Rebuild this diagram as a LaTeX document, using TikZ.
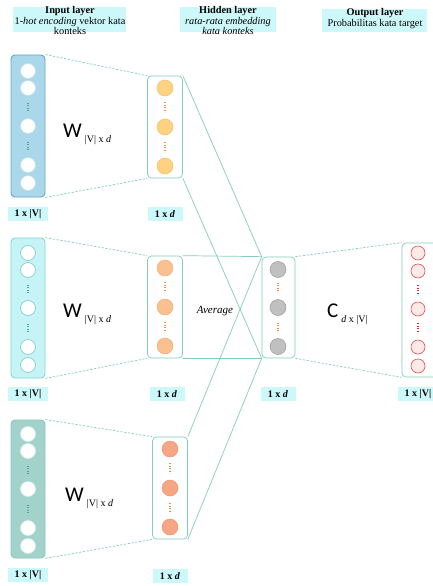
\documentclass[tikz,border=0pt]{standalone}
\usepackage{fontspec}
\setmainfont{Liberation Serif}
\newfontfamily\carlito{Carlito}
\definecolor{lineC}{RGB}{130,206,186}
\definecolor{labC}{RGB}{205,248,250}
\definecolor{in1F}{RGB}{170,216,234}
\definecolor{in1D}{RGB}{100,165,205}
\definecolor{in1C}{RGB}{190,228,240}
\definecolor{in2F}{RGB}{198,243,245}
\definecolor{in2D}{RGB}{130,215,215}
\definecolor{in2C}{RGB}{120,205,200}
\definecolor{in3F}{RGB}{163,210,203}
\definecolor{in3D}{RGB}{140,196,188}
\definecolor{in3C}{RGB}{215,240,236}
\definecolor{dotGreen}{RGB}{70,175,140}
\definecolor{dotOrange}{RGB}{232,140,75}
\definecolor{e1F}{RGB}{253,210,128}
\definecolor{e1D}{RGB}{240,190,110}
\definecolor{e2F}{RGB}{249,193,144}
\definecolor{e2D}{RGB}{238,175,125}
\definecolor{e3F}{RGB}{247,166,132}
\definecolor{e3D}{RGB}{236,150,118}
\definecolor{hF}{RGB}{192,192,192}
\definecolor{hD}{RGB}{155,155,155}
\definecolor{oF}{RGB}{253,234,232}
\definecolor{oD}{RGB}{228,80,80}
\definecolor{dotRed}{RGB}{210,40,40}
\tikzset{
  conn/.style={draw=lineC, line width=0.7pt},
  dconn/.style={conn, dash pattern=on 2.2pt off 1.6pt},
  invec/.style={rectangle, rounded corners=4pt, minimum width=34pt, line width=0.9pt, inner sep=0pt},
  embvec/.style={rectangle, rounded corners=4pt, draw=lineC, fill=white, minimum width=35pt, minimum height=102pt, line width=0.7pt, inner sep=0pt},
  unit/.style={circle, minimum size=15pt, inner sep=0pt, line width=0.6pt},
  eunit/.style={circle, minimum size=16pt, inner sep=0pt, line width=0.5pt},
  vdots/.style={line width=1.8pt, dash pattern=on 1.3pt off 1.2pt},
  dimlab/.style={fill=labC, font=\fontsize{10}{11}\selectfont\bfseries, minimum height=14pt, inner sep=1pt},
  hdr/.style={align=center, inner sep=0pt, anchor=north, font=\fontsize{10.3}{10.3}\selectfont},
  wlab/.style={anchor=base west, inner sep=0pt},
}
\newcommand{\wsub}[2]{{\carlito\fontsize{21}{21}\selectfont #1}\hspace{3pt}\raisebox{-5pt}{\fontsize{10}{10}\selectfont #2}}
\begin{document}
\begin{tikzpicture}[x=1pt,y=-1pt]
\useasboundingbox (0,0) rectangle (433,586);
\clip (0,0) rectangle (433,586);
\fill[white] (0,0) rectangle (433,586);

% headers
\fill[labC] (13,7) rectangle (126,32);
\node[hdr] (hIn) at (70,6.5) {\textbf{Input layer}\\1-\textit{hot encoding} vektor kata\\konteks};
\fill[labC] (180,7) rectangle (276,32);
\node[hdr] (hHid) at (228,6.5) {\textbf{Hidden layer}\\\textit{rata-rata embedding}\\\textit{kata konteks}};
\fill[labC] (322,9) rectangle (427,32);
\node[hdr] (hOut) at (375,8.5) {\textbf{Output layer}\\Probabilitas kata target};

% input vectors
\node[invec, fill=in1F, draw=in1D, minimum height=142pt] (in1) at (28,126) {};
\node[invec, fill=in2F, draw=in2D, minimum height=140pt] (in2) at (28,308) {};
\node[invec, fill=in3F, draw=in3D, minimum height=138pt] (in3) at (28,489) {};
\foreach \v/\cy/\cc in {1/126/in1C, 2/308/in2C, 3/489/in3C}{
  \foreach \k/\dy in {1/-55,2/-38,3/0,4/39,5/57}
    \node[unit, fill=white, draw=\cc] (in\v u\k) at (28,\cy+\dy) {};
  \foreach \dy in {-19,20}
    \draw[vdots, draw=dotGreen] (28,\cy+\dy-4.5) -- (28,\cy+\dy+5);
}

% embedding vectors
\node[embvec] (e1) at (165,127) {};
\node[embvec] (e2) at (165,307) {};
\node[embvec] (e3) at (170,488) {};
\foreach \v/\cx/\cy/\ff/\dd in {1/165/127/e1F/e1D, 2/165/307/e2F/e2D, 3/170/488/e3F/e3D}{
  \foreach \k/\dy in {1/-39,2/0,3/39}
    \node[eunit, fill=\ff, draw=\dd] (e\v u\k) at (\cx,\cy+\dy) {};
  \foreach \dy in {-20,20}
    \draw[vdots, draw=dotOrange] (\cx,\cy+\dy-5) -- (\cx,\cy+\dy+5);
}

% hidden average vector
\node[embvec, minimum width=33pt, minimum height=101pt] (hid) at (278.5,307.5) {};
\foreach \k/\dy in {1/-38,2/0,3/39}
  \node[eunit, fill=hF, draw=hD] (hu\k) at (278,307.5+\dy) {};
\foreach \dy in {-20,20}
  \draw[vdots, draw=dotOrange] (278,307.5+\dy-5) -- (278,307.5+\dy+5);

% output vector
\node[embvec, minimum width=35pt, minimum height=134pt] (out) at (419.5,310) {};
\foreach \k/\dy in {1/-57,2/-39,3/-1,4/37,5/56}
  \node[unit, minimum size=14pt, fill=oF, draw=oD] (ou\k) at (418,310+\dy) {};
\foreach \dy in {-20,18}
  \draw[vdots, draw=dotRed] (418,310+\dy-5) -- (418,310+\dy+5);

% connectors
\foreach \v/\e in {in1/e1, in2/e2, in3/e3}{
  \draw[dconn] (\v.north east) -- (\e.north west);
  \draw[dconn] (\v.south east) -- (\e.south west);
}
\foreach \e in {e1,e2,e3}{
  \draw[conn] (\e.north east) -- (hid.north west);
  \draw[conn] (\e.south east) -- (hid.south west);
}
\draw[dconn] (hid.north east) -- (out.north west);
\draw[dconn] (hid.south east) -- (out.south west);

% weight labels
\node[wlab] (w1) at (63,137) {\wsub{W}{|V| x \textit{d}}};
\node[wlab] (w2) at (63,317) {\wsub{W}{|V| x \textit{d}}};
\node[wlab] (w3) at (65,501) {\wsub{W}{|V| x \textit{d}}};
\node[wlab] (cw) at (327,317) {\wsub{C}{\textit{d} x |V|}};
\node[font=\itshape\fontsize{11}{11}\selectfont, inner sep=0pt] (avg) at (215,311) {Average};

% dimension labels
\node[dimlab, minimum width=40pt] (d1) at (28,214) {1 x |V|};
\node[dimlab, minimum width=40pt] (d2) at (28,394) {1 x |V|};
\node[dimlab, minimum width=40pt] (d3) at (28,575) {1 x |V|};
\node[dimlab, minimum width=35pt] (de1) at (165,214) {1 x \textit{d}};
\node[dimlab, minimum width=35pt] (de2) at (167,394) {1 x \textit{d}};
\node[dimlab, minimum width=35pt] (de3) at (170,576) {1 x \textit{d}};
\node[dimlab, minimum width=35pt] (dh) at (278,394) {1 x \textit{d}};
\node[dimlab, minimum width=40pt] (do) at (418,394) {1 x |V|};
\end{tikzpicture}
\end{document}
